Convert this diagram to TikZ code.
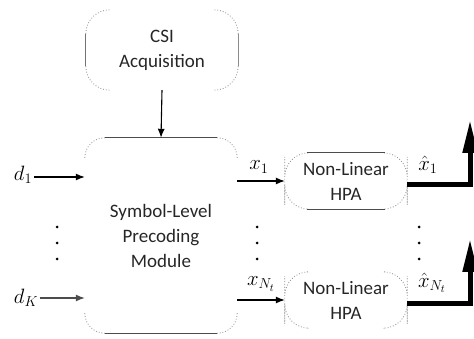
\documentclass[tikz,border=0pt]{standalone}
\usepackage{fontspec}
\setmainfont{Carlito}
\usetikzlibrary{arrows.meta,calc}
\newcommand{\mycorners}[2]{%
  \draw[cornerln,rounded corners=#2pt] ([yshift=-#2pt]#1.north west) |- ([xshift=#2pt]#1.north west);
  \draw[cornerln,rounded corners=#2pt] ([yshift=-#2pt]#1.north east) |- ([xshift=-#2pt]#1.north east);
  \draw[cornerln,rounded corners=#2pt] ([yshift=#2pt]#1.south west) |- ([xshift=#2pt]#1.south west);
  \draw[cornerln,rounded corners=#2pt] ([yshift=#2pt]#1.south east) |- ([xshift=-#2pt]#1.south east);}
\tikzset{
  cornerln/.style={draw=gray!85, line width=0.8pt, dash pattern=on 0.9pt off 1.9pt},
  sideln/.style={draw=black!70, line width=0.9pt},
  blk/.style={inner sep=0pt, align=center, text=black!85, font=\fontsize{19}{25}\selectfont},
  lbl/.style={inner sep=1pt, font=\fontsize{22}{26}\selectfont},
  arr/.style={-{Latex[length=9pt,width=7pt]}, line width=1.1pt},
  thk/.style={line width=5pt, -{Triangle[length=33pt,width=14pt]}},
  dotc/.style={fill=black, circle, inner sep=0pt, minimum size=3pt}
}
\begin{document}
\begin{tikzpicture}[x=1pt,y=-1pt]
\useasboundingbox (0,0) rectangle (474,339);
% blocks
\node[blk, minimum width=152pt, minimum height=80pt] (csi) at (162,50) {CSI\\Acquisition};
\node[blk, minimum width=152pt, minimum height=195pt] (slp) at (161,235.5) {Symbol-Level\\Precoding\\Module};
\node[blk, minimum width=122pt, minimum height=56pt] (h1) at (346,181) {Non-Linear\\HPA};
\node[blk, minimum width=122pt, minimum height=56pt] (h2) at (346,300) {Non-Linear\\HPA};
% CSI outline
\mycorners{csi}{24}
\draw[sideln, draw=black!55] ([yshift=-24pt]csi.north west) -- ([yshift=24pt]csi.south west);
\draw[sideln, draw=black!45] ([yshift=-24pt]csi.north east) -- ([yshift=24pt]csi.south east);
% SLP outline
\mycorners{slp}{20}
\draw[sideln] ([xshift=20pt]slp.north west) -- ([xshift=-20pt]slp.north east);
\draw[sideln] ([xshift=20pt]slp.south west) -- ([xshift=-20pt]slp.south east);
% HPA outlines
\foreach \h in {h1,h2}{
  \draw[cornerln,rounded corners=24pt] ([xshift=22pt]\h.north west) -| (\h.west) |- ([xshift=22pt]\h.south west);
  \draw[cornerln,rounded corners=24pt] ([xshift=-22pt]\h.north east) -| (\h.east) |- ([xshift=-22pt]\h.south east);
}
\draw[sideln] ([xshift=22pt]h1.north west) -- ([xshift=-22pt]h1.north east);
\draw[sideln] ([xshift=22pt]h1.south west) -- ([xshift=-22pt]h1.south east);
% CSI -> SLP
\draw[arr] (csi.south) -- (slp.north);
% inputs
\node[lbl] (d1) at (23,175) {$d_1$};
\node[lbl] (dK) at (26,298) {$d_K$};
\draw[arr] ([xshift=1pt]d1.east |- 0,177) coordinate (d1s) -- (d1s -| slp.west);
\draw[arr, draw=black!70] ([xshift=1pt]dK.east |- 0,298) coordinate (dKs) -- (dKs -| slp.west);
% outputs of SLP
\draw[arr] (slp.east |- h1.west) -- (h1.west);
\draw[arr] (slp.east |- h2.west) -- (h2.west);
\node[lbl] (x1) at (259,167) {$x_1$};
\node[lbl] (xN) at (261,284) {$x_{N_t}$};
% HPA outputs
\coordinate (o1) at (470,120);
\coordinate (o2) at (470,239);
\draw[thk] ([yshift=-4pt]h1.east) -| (o1);
\draw[thk] ([yshift=-3pt]h2.east) -| (o2);
\node[lbl] (y1) at (428,165) {$\hat{x}_1$};
\node[lbl] (yN) at (432,283) {$\hat{x}_{N_t}$};
% dots
\foreach \xx in {57,257,419}{
  \foreach \yy in {227,243,259}{
    \node[dotc] at (\xx,\yy) {};
  }
}
\end{tikzpicture}
\end{document}
